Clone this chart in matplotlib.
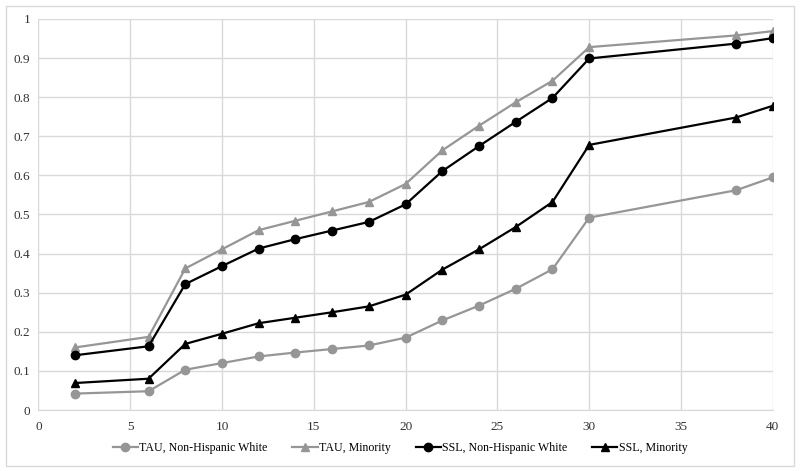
import numpy as np
import matplotlib.pyplot as plt
from matplotlib.patches import FancyBboxPatch

x = [2, 6, 8, 10, 12, 14, 16, 18, 20, 22, 24, 26, 28, 30, 38, 40]

tau_nhw = [0.042, 0.048, 0.103, 0.120, 0.137, 0.147, 0.156, 0.165, 0.185,
           0.229, 0.267, 0.310, 0.360, 0.492, 0.562, 0.595]
tau_min = [0.160, 0.187, 0.362, 0.411, 0.460, 0.484, 0.508, 0.532, 0.578,
           0.664, 0.727, 0.787, 0.842, 0.928, 0.958, 0.969]
ssl_nhw = [0.140, 0.163, 0.322, 0.368, 0.413, 0.437, 0.459, 0.481, 0.526,
           0.611, 0.675, 0.737, 0.798, 0.899, 0.937, 0.951]
ssl_min = [0.069, 0.080, 0.169, 0.195, 0.222, 0.236, 0.250, 0.265, 0.295,
           0.359, 0.411, 0.468, 0.532, 0.678, 0.748, 0.778]

plt.rcParams['font.family'] = ['Liberation Serif', 'DejaVu Serif']

fig = plt.figure(figsize=(8, 4.71), dpi=100)
ax = fig.add_axes([0.048, 0.1295, 0.918, 0.8302])

gris = '#969696'
ax.plot(x, tau_nhw, color=gris, marker='o', ms=6, lw=1.6, label='TAU, Non-Hispanic White')
ax.plot(x, tau_min, color=gris, marker='^', ms=6, lw=1.6, label='TAU, Minority')
ax.plot(x, ssl_nhw, color='black', marker='o', ms=6, lw=1.6, label='SSL, Non-Hispanic White')
ax.plot(x, ssl_min, color='black', marker='^', ms=6, lw=1.6, label='SSL, Minority')

ax.set_xlim(0, 40)
ax.set_ylim(0, 1)
ax.set_xticks(np.arange(0, 41, 5))
ax.set_yticks(np.arange(0, 1.01, 0.1))
ax.set_yticklabels(['0'] + ['%.1f' % v for v in np.arange(0.1, 0.95, 0.1)] + ['1'])
ax.grid(True, color='#d9d9d9', lw=1)
ax.set_axisbelow(True)
for s in ['top', 'right', 'left']:
    ax.spines[s].set_visible(False)
ax.spines['bottom'].set_color('#d9d9d9')
ax.tick_params(length=0, labelsize=9.5, colors='#333333', pad=8)
ax.tick_params(axis='y', pad=6)

fig.legend(loc='center', bbox_to_anchor=(0.5, 0.048), ncol=4, frameon=False,
           fontsize=8.6, handlelength=2.1, columnspacing=2.1, handletextpad=0.1)

fig.patches.append(FancyBboxPatch((0.007, 0.01), 0.986, 0.978, boxstyle='square,pad=0',
                                  transform=fig.transFigure, fill=False,
                                  edgecolor='#d9d9d9', lw=1))

fig.savefig('out.png', dpi=100)
